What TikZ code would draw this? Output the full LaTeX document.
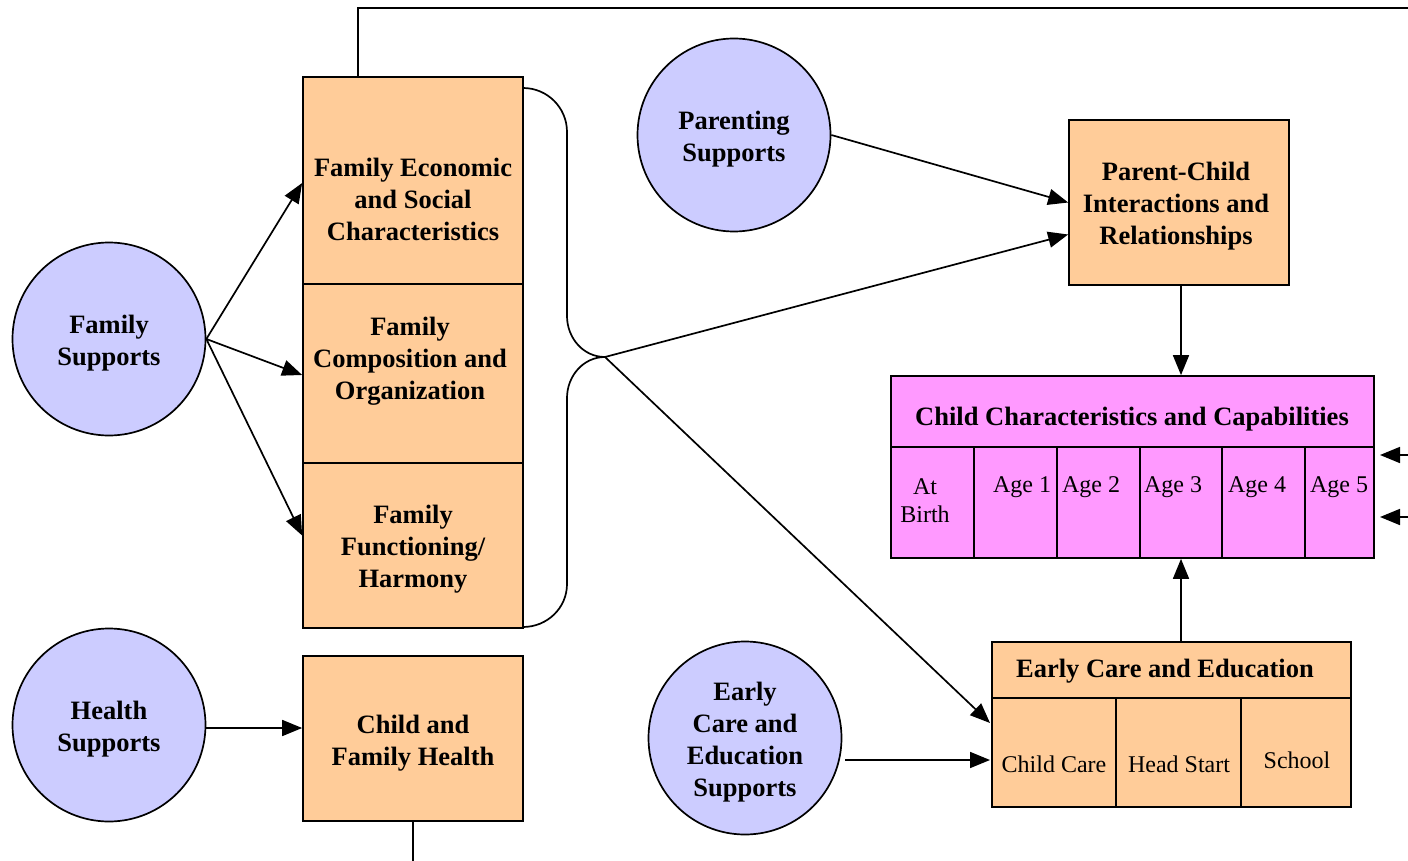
\documentclass[tikz,border=0pt]{standalone}
\usepackage{fontspec}
\setmainfont{Liberation Serif}
\usetikzlibrary{arrows.meta}
\definecolor{peach}{HTML}{FFCC99}
\definecolor{lav}{HTML}{CCCCFF}
\definecolor{pinkc}{HTML}{FF99FF}
\newcommand\btf{\fontsize{26.5}{32}\selectfont\bfseries}
\newcommand\rtf{\fontsize{24}{28}\selectfont}
\begin{document}
\begin{tikzpicture}[x=1pt,y=-1pt,
  lw/.style={line width=1.7pt},
  box/.style={draw, fill=peach, lw, inner sep=0pt},
  pbox/.style={draw, fill=pinkc, lw, inner sep=0pt},
  circ/.style={circle, draw, fill=lav, lw, minimum size=193pt, inner sep=0pt},
  txt/.style={inner sep=0pt, align=center, font=\btf},
  rtxt/.style={inner sep=0pt, align=center, font=\rtf},
  arr/.style={lw, -{Triangle[length=20pt,width=16pt]}}]
\useasboundingbox (0,0) rectangle (1408,861);
% circles
\node[circ] (fs) at (109,339) {};
\node[circ] (hs) at (109,725) {};
\node[circ] (ps) at (734,135) {};
\node[circ] (es) at (745,738) {};
\node[txt] (fst) at (109,343) {Family\\Supports};
\node[txt] (hst) at (109,729) {Health\\Supports};
\node[txt] (pst) at (734,139) {Parenting\\Supports};
\node[txt] (est) at (745,742) {Early\\Care and\\Education\\Supports};
% family stack
\node[box, minimum width=220pt, minimum height=207pt] (fesc) at (413,180.5) {};
\node[box, minimum width=220pt, minimum height=179pt] (fco) at (413,373.5) {};
\node[box, minimum width=220pt, minimum height=165pt] (ffh) at (413,545.5) {};
\node[txt] (t1) at (413,199) {Family Economic\\and Social\\Characteristics};
\node[txt] (t2) at (410,361) {Family\\Composition and\\Organization};
\node[txt] (t3) at (413,549) {Family\\Functioning/\\Harmony};
% child and family health
\node[box, minimum width=220pt, minimum height=165pt] (cfh) at (413,738.5) {};
\node[txt] (t4) at (413,743) {Child and\\Family Health};
% parent-child
\node[box, minimum width=220pt, minimum height=165pt] (pc) at (1179,202.5) {};
\node[txt] (t5) at (1176,206) {Parent-Child\\Interactions and\\Relationships};
% child characteristics
\node[pbox, minimum width=483pt, minimum height=71pt] (cch) at (1132.5,411.5) {};
\node[txt] (t6) at (1132,419) {Child Characteristics and Capabilities};
\node[pbox, minimum width=83pt, minimum height=111pt] (c0) at (932.5,502.5) {};
\node[pbox, minimum width=83pt, minimum height=111pt] (c1) at (1015.5,502.5) {};
\node[pbox, minimum width=83pt, minimum height=111pt] (c2) at (1098.5,502.5) {};
\node[pbox, minimum width=82pt, minimum height=111pt] (c3) at (1181,502.5) {};
\node[pbox, minimum width=83pt, minimum height=111pt] (c4) at (1263.5,502.5) {};
\node[pbox, minimum width=69pt, minimum height=111pt] (c5) at (1339.5,502.5) {};
\node[rtxt] (a0) at (925,501) {At\\Birth};
\node[rtxt] (a1) at (1022,487) {Age 1};
\node[rtxt] (a2) at (1091,487) {Age 2};
\node[rtxt] (a3) at (1173,487) {Age 3};
\node[rtxt] (a4) at (1257,487) {Age 4};
\node[rtxt] (a5) at (1339,487) {Age 5};
% early care and education
\node[box, minimum width=359pt, minimum height=56pt] (ech) at (1171.5,670) {};
\node[txt] (t7) at (1165,671) {Early Care and Education};
\node[box, minimum width=124pt, minimum height=109pt] (e1) at (1054,752.5) {};
\node[box, minimum width=125pt, minimum height=109pt] (e2) at (1178.5,752.5) {};
\node[box, minimum width=110pt, minimum height=109pt] (e3) at (1296,752.5) {};
\node[rtxt] (b1) at (1054,764) {Child Care};
\node[rtxt] (b2) at (1179,764) {Head Start};
\node[rtxt] (b3) at (1297,760) {School};
% brace
\coordinate (tip) at (605,357);
\draw[lw] (523,88) to[out=0,in=90] (567,132) -- (567,316) to[out=-90,in=180] (tip)
  to[out=180,in=90] (567,398) -- (567,584) to[out=-90,in=0] (523,627);
% top and bottom lines
\coordinate (topr) at (1410,8);
\coordinate (botd) at (413,863);
\draw[lw] ([xshift=-55pt]fesc.north) |- (topr);
\draw[lw] (cfh.south) -- (botd);
% arrows
\draw[arr] (fs.east) -- ([yshift=-2.5pt]fesc.west);
\draw[arr] (fs.east) -- ([yshift=-1.5pt]fco.west);
\draw[arr] (fs.east) -- ([yshift=10pt]ffh.west);
\draw[arr] (hs.east |- 0,728) -- (cfh.west |- 0,728);
\draw[arr] (ps.east) -- (pc.west);
\draw[arr] (tip) -- ([yshift=-32pt]pc.west);
\draw[arr] (tip) -- (990,723);
\coordinate (eso) at (845,760);
\draw[arr] (eso) -- (990,760);
\draw[arr] (pc.south -| c3.north) -- (c3.north |- cch.north);
\draw[arr] (ech.north -| c3.south) -- (c3.south);
\coordinate (r1) at (1410,455);
\coordinate (r2) at (1410,517);
\draw[arr] (r1) -- (1380,455);
\draw[arr] (r2) -- (1380,517);
\end{tikzpicture}
\end{document}
